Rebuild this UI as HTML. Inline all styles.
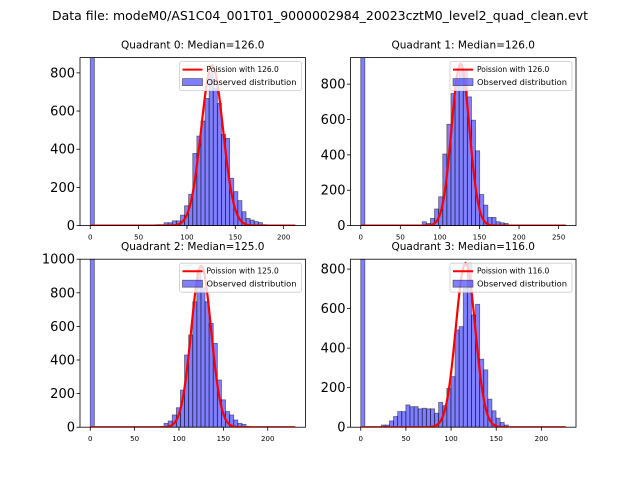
<!DOCTYPE html>
<html><head><meta charset="utf-8"><style>
body{margin:0;background:#fff}
svg{display:block;font-family:"DejaVu Sans","Liberation Sans",sans-serif}
</style></head><body>
<svg id="fig" width="640" height="480" viewBox="0 0 640 480">
<rect width="640" height="480" fill="#fff"/>
<text x="320" y="20" text-anchor="middle" font-size="12" textLength="536" lengthAdjust="spacingAndGlyphs">Data file: modeM0/AS1C04_001T01_9000002984_20023cztM0_level2_quad_clean.evt</text>
</svg>
<script>
// Panel data
const titles = ["Quadrant 0: Median=126.0","Quadrant 1: Median=126.0","Quadrant 2: Median=125.0","Quadrant 3: Median=116.0"];
const medians = [126, 126, 125, 116];
const dataMax = [212, 259, 231, 227];
const yMax = [880, 950, 1000, 850];
const yTicks = [[0,200,400,600,800],[0,200,400,600,800],[0,200,400,600,800,1000],[0,200,400,600,800]];
const xTicks = [[0,50,100,150,200],[0,50,100,150,200,250],[0,50,100,150,200],[0,50,100,150,200]];
const zeroBin = [5000, 5000, 5000, 5000];
const binStart = [16, 15, 17, 5];
const counts0 = [5,5,15,15,25,25,55,104,164,378,469,548,666,800,720,640,478,457,248,178,131,73,38,29,21,16,5];
const counts1 = [22,12,41,94,163,405,573,747,823,900,880,728,596,423,176,116,46,46,22,16,12];
const counts2 = [5,23,37,73,116,221,430,549,747,940,830,747,618,499,281,163,93,73,43,23,17,5];
const counts3 = [11,11,32,54,79,79,113,104,104,93,96,93,93,71,126,109,197,256,492,509,703,830,568,622,344,290,142,83,46,24,11];
const allCounts = [counts0, counts1, counts2, counts3];
const peakAmp = [840, 915, 960, 830];

const NS = "http://www.w3.org/2000/svg";
const svg = document.getElementById("fig");
function mk(tag, attrs, parent){const e=document.createElementNS(NS,tag);for(const k in attrs)e.setAttribute(k,attrs[k]);(parent||svg).appendChild(e);return e;}
const boxes = [[80,57.6],[350.5,57.6],[80,259.2],[350.5,259.2]];
const W = 225.5, H = 168;

for (let p=0;p<4;p++){
  const [L,T] = boxes[p];
  const dmax = dataMax[p], bw = dmax/50;
  const span = dmax*1.1, x0 = -dmax*0.05;
  const sx = v => L + (v - x0)/span*W;
  const sy = v => T + H - v/yMax[p]*H;
  const g = mk("g",{});
  
  
  const cp = mk("clipPath",{id:"c"+p},g);
  mk("rect",{x:L,y:T,width:W,height:H},cp);
  const plot = mk("g",{"clip-path":"url(#c"+p+")"},g);
  const bars = [[0, zeroBin[p]]];
  allCounts[p].forEach((c,i)=>bars.push([binStart[p]+i, c]));
  bars.forEach(([bi,c])=>{
    const r = mk("rect",{x:sx(bi*bw),y:sy(c),width:sx((bi+1)*bw)-sx(bi*bw),height:sy(0)-sy(c),fill:"#0000ff","fill-opacity":"0.5",stroke:"#000","stroke-opacity":"0.5","stroke-width":"0.8"},plot);
    
    
  });
  let d="";
  for(let k=0;k<=Math.round(dmax);k++){
    const v = peakAmp[p]*Math.exp(-(k-medians[p])*(k-medians[p])/(2*medians[p]));
    d += (k?"L":"M")+sx(k).toFixed(2)+","+sy(v).toFixed(2);
  }
  const line = mk("path",{d:d,fill:"none",stroke:"#ff0000","stroke-width":"2.2"},plot);
  
  
  mk("rect",{x:L,y:T,width:W,height:H,fill:"none",stroke:"#000","stroke-width":"0.8"},g);
  yTicks[p].forEach(t=>{
    const y=sy(t);
    mk("line",{x1:L-3.5,x2:L,y1:y,y2:y,stroke:"#000","stroke-width":"0.8"},g);
    const tx=mk("text",{x:L-5,y:y+4.5,"text-anchor":"end","font-size":"13"},g);
    tx.textContent=t;
    
    
  });
  xTicks[p].forEach(t=>{
    const x=sx(t);
    mk("line",{x1:x,x2:x,y1:T+H,y2:T+H+3.5,stroke:"#000","stroke-width":"0.8"},g);
    const tx=mk("text",{x:x,y:T+H+14,"text-anchor":"middle","font-size":"7"},g);
    tx.textContent=t;
    
    
  });
  const tt=mk("text",{x:L+W/2,y:T-9,"text-anchor":"middle","font-size":"10.5"},g);
  tt.textContent=titles[p];
  
  
  const lg=mk("g",{},g);
  
  
  const lx=L+W-126, ly=T+4;
  mk("rect",{x:lx,y:ly,width:122,height:29,fill:"#fff","fill-opacity":"0.8",stroke:"#ccc","stroke-width":"0.8",rx:"2"},lg);
  mk("line",{x1:lx+3,x2:lx+23,y1:ly+8,y2:ly+8,stroke:"#ff0000","stroke-width":"2"},lg);
  const t1=mk("text",{x:lx+27,y:ly+10.5,"font-size":"7.5"},lg);
  t1.textContent="Poission with "+medians[p].toFixed(1);
  
  
  mk("rect",{x:lx+3,y:ly+17,width:20,height:7,fill:"#0000ff","fill-opacity":"0.5",stroke:"#000","stroke-opacity":"0.5","stroke-width":"0.8"},lg);
  const t2=mk("text",{x:lx+27,y:ly+23.5,"font-size":"7.5","textLength":"90","lengthAdjust":"spacingAndGlyphs"},lg);
  t2.textContent="Observed distribution";
  
  
}
</script>
</body></html>
